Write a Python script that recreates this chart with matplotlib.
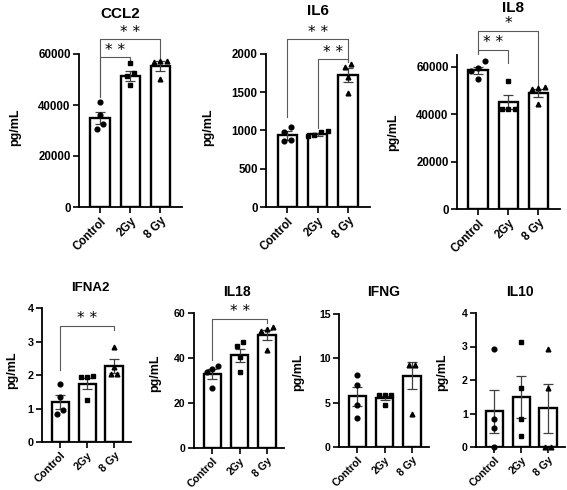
import matplotlib.pyplot as plt
import numpy as np

plt.rcParams['font.family'] = ['Liberation Sans', 'DejaVu Sans']
plt.rcParams['font.weight'] = 'bold'

groups = ['Control', '2Gy', '8 Gy']

ccl2_means = [35000, 51300, 55300]
ccl2_sems = [2300, 1900, 1800]
ccl2_points = [[41100, 36100, 32700, 30400], [56300, 52400, 51400, 47700], [57400, 56900, 57200, 50200]]

il6_means = [935, 948, 1722]
il6_sems = [60, 18, 90]
il6_points = [[1052, 974, 870, 860], [996, 974, 935, 922], [1870, 1835, 1696, 1487]]

il8_means = [58600, 45200, 48900]
il8_sems = [1500, 2900, 1600]
il8_points = [[62500, 59400, 58400, 55000], [54200, 42300, 42300, 42300], [51300, 51000, 50500, 44300]]

ifna2_means = [1.19, 1.74, 2.27]
ifna2_sems = [0.21, 0.17, 0.2]
ifna2_points = [[1.72, 1.34, 0.95, 0.83], [1.97, 1.94, 1.95, 1.26], [2.84, 2.24, 2.04, 2.04]]

il18_means = [32.7, 41.2, 50.3]
il18_sems = [2.2, 3.0, 2.3]
il18_points = [[36.5, 35.1, 33.8, 26.8], [46.9, 45.5, 40.6, 33.6], [53.6, 53.0, 52.2, 43.6]]

ifng_means = [5.75, 5.55, 8.05]
ifng_sems = [1.07, 0.25, 1.55]
ifng_points = [[8.1, 7.0, 4.75, 3.3], [5.85, 5.85, 5.85, 4.75], [9.2, 9.2, 3.7]]

il10_means = [1.06, 1.5, 1.16]
il10_sems = [0.64, 0.62, 0.73]
il10_points = [[2.92, 0.83, 0.58, 0.0], [3.14, 1.77, 0.83, 0.34], [2.92, 1.75, 0.0, 0.0]]

# brackets: (group a, group b, top, left leg end, right leg end, label)
ccl2_sig = [(0, 1, 58700, 43300, 57000, '**'), (0, 2, 65700, 43300, 58300, '**')]
il6_sig = [(0, 2, 2191, 1183, 1900, '**'), (1, 2, 1930, 1030, 1900, '**')]
il8_sig = [(0, 2, 75100, 66100, 52200, '*'), (0, 1, 67200, 65400, 61800, '**')]
ifna2_sig = [(0, 2, 3.47, 2.14, 3.33, '**')]
il18_sig = [(0, 2, 57.3, 39.0, 55.5, '**')]

W, H = 567, 490
markers = ['o', 's', '^']
fig = plt.figure(figsize=(W / 100, H / 100), dpi=100)


def spread(vals, span):
    vals = np.asarray(vals, dtype=float)
    order = np.argsort(vals)
    offs = np.zeros(len(vals))
    clusters = []
    for i in order:
        if clusters and vals[i] - vals[clusters[-1][-1]] < 0.05 * span:
            clusters[-1].append(i)
        else:
            clusters.append([i])
    for c in clusters:
        for k, i in enumerate(c):
            offs[i] = (k - (len(c) - 1) / 2) * 0.22
    return offs


def panel(rect, xlim, means, sems, points, ymax, yticks, sig, title, title_xy, ylab_xy, tsize, lsize):
    l, t, r, b = rect
    ax = fig.add_axes([l / W, 1 - b / H, (r - l) / W, (b - t) / H])
    x = np.arange(len(groups))
    ax.bar(x, means, width=0.64, color='white', edgecolor='black', linewidth=1.7, zorder=1)
    ax.errorbar(x, means, yerr=sems, fmt='none', ecolor='0.25', elinewidth=0.9,
                capsize=3.5, capthick=0.9, zorder=2)
    for i, vals in enumerate(points):
        ax.plot(i + spread(vals, ymax), vals, marker=markers[i], ls='none', color='black',
                ms=3.4, clip_on=False, zorder=3)
    for a, bb, top, la, lb, lab in sig:
        ax.plot([a, a, bb, bb], [la, top, top, lb], color='0.35', lw=0.8, clip_on=False)
        ax.annotate(' '.join(lab), (0.5 * (a + bb), top), xytext=(0, 2), textcoords='offset points',
                    ha='center', va='baseline', fontsize=11, fontweight='normal',
                    family='DejaVu Sans', annotation_clip=False)
    ax.set_xlim(*xlim)
    ax.set_ylim(0, ymax)
    ax.set_yticks(yticks)
    ax.set_xticks(x)
    ax.set_xticklabels(groups, rotation=45, ha='right', rotation_mode='anchor')
    for s in ['top', 'right']:
        ax.spines[s].set_visible(False)
    for s in ['left', 'bottom']:
        ax.spines[s].set_linewidth(1.3)
    ax.tick_params(width=1.2, length=4, labelsize=lsize, pad=2)
    fig.text(title_xy[0] / W, 1 - title_xy[1] / H, title, ha='center', va='center',
             fontsize=tsize, fontweight='bold')
    fig.text(ylab_xy[0] / W, 1 - ylab_xy[1] / H, 'pg/mL', ha='center', va='center',
             rotation=90, fontsize=9, fontweight='bold')
    return ax


top_x = (-0.7, 2.72)
bot_x = (-0.68, 2.63)
panel((79, 54, 182, 207), top_x, ccl2_means, ccl2_sems, ccl2_points, 60000,
      [0, 20000, 40000, 60000], ccl2_sig, 'CCL2', (120, 14), (15, 127), 11, 8.3)
panel((266, 54, 370, 207), top_x, il6_means, il6_sems, il6_points, 2000,
      [0, 500, 1000, 1500, 2000], il6_sig, 'IL6', (318, 11), (208, 127), 11, 8.3)
panel((457, 55, 560, 209), top_x, il8_means, il8_sems, il8_points, 65000,
      [0, 20000, 40000, 60000], il8_sig, 'IL8', (513, 8), (393, 132), 11, 8.3)
panel((42, 308, 131, 442), bot_x, ifna2_means, ifna2_sems, ifna2_points, 4,
      [0, 1, 2, 3, 4], ifna2_sig, 'IFNA2', (90, 288), (12, 370), 9.5, 7.8)
panel((194, 313, 284, 448), bot_x, il18_means, il18_sems, il18_points, 60,
      [0, 20, 40, 60], il18_sig, 'IL18', (237, 292), (155, 373), 10, 7.6)
panel((339, 314, 429, 447), bot_x, ifng_means, ifng_sems, ifng_points, 15,
      [0, 5, 10, 15], [], 'IFNG', (384, 292), (298, 372), 10, 7.6)
panel((476, 313, 565, 447), bot_x, il10_means, il10_sems, il10_points, 4,
      [0, 1, 2, 3, 4], [], 'IL10', (520, 292), (442, 372), 10, 7.6)

fig.savefig('out.png', dpi=100)
